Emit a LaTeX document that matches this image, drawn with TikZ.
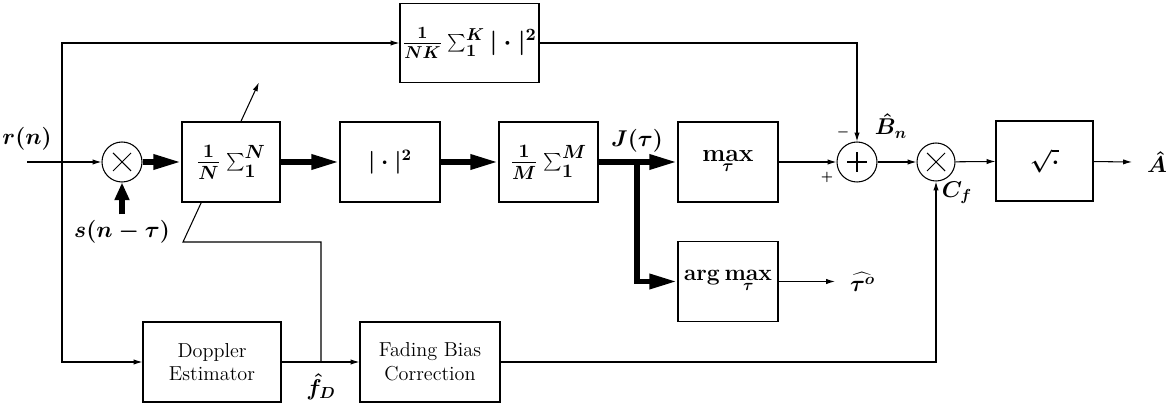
\documentclass[tikz,border=0pt]{standalone}
\usepackage{fix-cm}
\usepackage{tikz}
\usetikzlibrary{arrows.meta,calc,positioning}
\newcommand\lblfont{\fontsize{13}{15}\selectfont\boldmath}
\newcommand\boxfont{\fontsize{15.5}{17}\selectfont\boldmath}

\begin{document}
\begin{tikzpicture}[x=0.2mm,y=0.2mm,font=\lblfont,
    blk/.style={draw,line width=0.6pt,inner sep=0pt,minimum height=16mm},
    txtblk/.style={blk,align=center,font=\fontsize{11.5}{13.5}\selectfont},
    junc/.style={draw,circle,line width=0.6pt,inner sep=0pt},
    arr/.style={-{Latex[length=5pt,width=3pt]},line width=0.6pt},
    fat/.style={-{Triangle[length=16pt,width=8pt]},line width=3.4pt},
    sign/.style={font=\scriptsize\boldmath,inner sep=0pt}]
        \useasboundingbox (0,0) rectangle (1170,409);

        \node[blk,minimum width=19.6mm,font=\boxfont] (avgN) at (231,247) {$\frac{1}{N}\sum_1^N$};
        \node[blk,minimum width=20mm] (sqr) at (390,247) {$|\cdot|^2$};
        \node[blk,minimum width=19.8mm,font=\boxfont] (avgM) at (548.5,247) {$\frac{1}{M}\sum_1^M$};
        \node[blk,minimum width=20mm,font=\fontsize{14}{16}\selectfont\boldmath] (maxb) at (728,247)
          {$\displaystyle\max_{\tau}$};
        \node[blk,minimum width=20mm] (argmaxb) at (728,127.5) {$\arg\max\limits_{\tau}$};
        \node[blk,minimum width=19.4mm] (rootb) at (1044.5,248) {$\sqrt{\cdot}$};
        \node[blk,minimum width=27.8mm,minimum height=15.8mm,font=\fontsize{14}{16}\selectfont\boldmath]
          (nkb) at (469.5,366) {$\frac{1}{NK}\sum_1^K|\cdot|^2$};
        \node[txtblk,minimum width=27.6mm] (dopp) at (212,47) {Doppler\\Estimator};
        \node[txtblk,minimum width=28mm] (fbc) at (430,47) {Fading Bias\\Correction};

        \node[junc,minimum size=8mm] (mult) at (122,247) {};
        \node[junc,minimum size=8mm] (plus) at (857,247) {};
        \node[junc,minimum size=7.6mm] (multb) at (936,247) {};
        \foreach \c in {mult,multb}
          \draw[line width=0.6pt] (\c.center) ++(-9,-9) -- ++(18,18) ++(-18,0) -- ++(18,-18);
        \draw[line width=0.6pt] (plus.center) ++(-10,0) -- ++(20,0) ++(-10,-10) -- ++(0,20);

        \coordinate (in) at (27,247);
        \coordinate (tap) at (62,247);
        \coordinate (br) at (637,247);
        \coordinate (fb) at (183,167);
        \coordinate (fD) at (321,47);
        \coordinate (out) at (1132,247);
        \coordinate (tout) at (835,127.5);

        \draw[arr] (in) node[above=3pt]{$r(n)$} -- (mult);
        \draw[arr] (tap) |- (nkb);
        \draw[arr] (tap) |- (dopp);
        \draw[arr] (nkb) -| (plus);
        \draw[arr] ($(avgN.north west)!0.6!(avgN.north east)$) -- ++(18,39);
        \draw[line width=0.6pt] ($(avgN.south west)!0.2!(avgN.south east)$) -- (fb) -| (fD);
        \draw[arr] (dopp) -- (fbc);
        \draw[arr] (fbc) -| (multb);

        \node (slbl) at (122,177) {$s(n-\tau)$};
        \draw[fat,-{Triangle[length=10pt,width=8pt]}] (slbl.north) -- (mult);
        \draw[fat] (mult) -- (avgN);
        \draw[fat] (avgN) -- (sqr);
        \draw[fat] (sqr) -- (avgM);
        \draw[fat] (avgM) -- (maxb);
        \draw[fat] (br) |- (argmaxb);
        \node[above=2pt] at (br) {$J(\tau)$};

        \draw[arr] (maxb) -- (plus);
        \draw[arr] (plus) -- (multb);
        \draw[arr] (multb) -- (rootb);
        \draw[arr] (rootb) -- (out);
        \node[right=5pt] at (out) {$\hat{A}$};
        \draw[arr] (argmaxb) -- (tout);
        \node[right=5pt] at (tout) {$\widehat{\tau^{o}}$};

        \node[sign] at ($(plus)+(-14,30)$) {$-$};
        \node[sign] at ($(plus)+(-30,-15)$) {$+$};
        \node at ($(plus)+(34,36)$) {$\hat{B}_n$};
        \node at ($(multb)+(21,-31)$) {$C_f$};
        \node[below=3pt] at (fD) {$\hat{f}_D$};
      \end{tikzpicture}
\end{document}
